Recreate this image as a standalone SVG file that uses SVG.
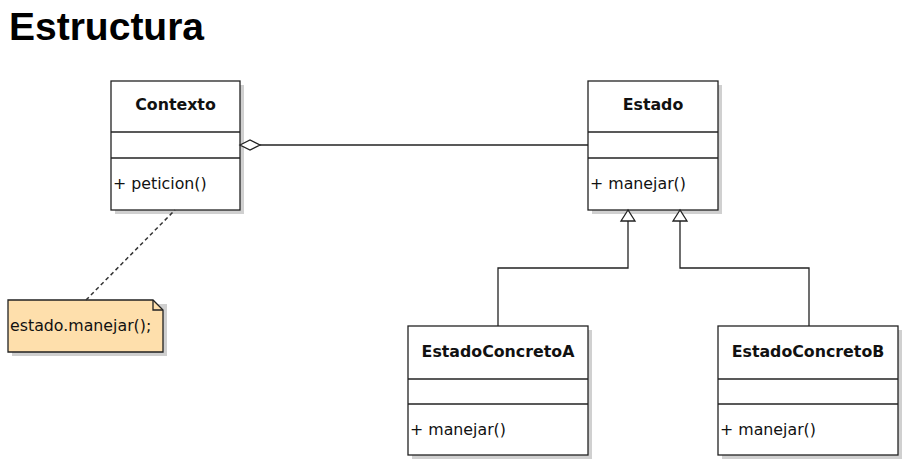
<svg xmlns="http://www.w3.org/2000/svg" width="907" height="468" viewBox="0 0 907 468">
<style>
.box{fill:#fff;stroke:#222;stroke-width:1.3}
.sh{fill:#d0d0d0}
.div{stroke:#222;stroke-width:1.3}
.t{font-family:"DejaVu Sans",sans-serif;font-size:15.8px;font-weight:bold;fill:#111;text-anchor:middle}
.m{font-family:"DejaVu Sans",sans-serif;font-size:15.8px;fill:#111}
.ln{fill:none;stroke:#222;stroke-width:1.3}
</style>
<rect width="907" height="468" fill="#fff"/>
<text x="9" y="40" font-family="Liberation Sans, Arial, sans-serif" font-size="39" font-weight="bold" fill="#000">Estructura</text>

<g id="Contexto">
<rect class="sh" x="115" y="85" width="129" height="129"/>
<rect class="box" x="111" y="81" width="129" height="129"/>
<line class="div" x1="111" y1="132" x2="240" y2="132"/>
<line class="div" x1="111" y1="158" x2="240" y2="158"/>
<text class="t" x="175.5" y="110">Contexto</text>
<text class="m" x="113" y="189">+ peticion()</text>
</g>

<g id="Estado">
<rect class="sh" x="592" y="85" width="130" height="129"/>
<rect class="box" x="588" y="81" width="130" height="129"/>
<line class="div" x1="588" y1="132" x2="718" y2="132"/>
<line class="div" x1="588" y1="158" x2="718" y2="158"/>
<text class="t" x="653" y="110">Estado</text>
<text class="m" x="590" y="189">+ manejar()</text>
</g>

<g id="EstadoConcretoA">
<rect class="sh" x="412" y="330" width="180" height="129"/>
<rect class="box" x="408" y="326" width="180" height="129"/>
<line class="div" x1="408" y1="379" x2="588" y2="379"/>
<line class="div" x1="408" y1="404" x2="588" y2="404"/>
<text class="t" x="498" y="357">EstadoConcretoA</text>
<text class="m" x="410" y="435">+ manejar()</text>
</g>

<g id="EstadoConcretoB">
<rect class="sh" x="722" y="330" width="180" height="129"/>
<rect class="box" x="718" y="326" width="180" height="129"/>
<line class="div" x1="718" y1="379" x2="898" y2="379"/>
<line class="div" x1="718" y1="404" x2="898" y2="404"/>
<text class="t" x="808" y="357">EstadoConcretoB</text>
<text class="m" x="720" y="435">+ manejar()</text>
</g>

<g id="Nota">
<path d="M12,304 H167 V356 H12 Z" fill="#cfcfcf"/>
<path d="M8,300 H153 L163,310 V352 H8 Z" fill="#fedfac" stroke="#222" stroke-width="1.3"/>
<path d="M153,300 V310 H163" fill="none" stroke="#222" stroke-width="1.3"/>
<text class="m" x="10" y="331">estado.manejar();</text>
</g>

<g id="connectors">
<line class="ln" x1="260" y1="145" x2="588" y2="145"/>
<path d="M240,145 L250,140 L260,145 L250,150 Z" fill="#fff" stroke="#222" stroke-width="1.3"/>
<line x1="86" y1="300" x2="175" y2="210" stroke="#333" stroke-width="1.5" stroke-dasharray="4,3"/>
<path class="ln" d="M628,221 V268 H498 V326"/>
<path class="ln" d="M680,221 V268 H809 V326"/>
<path d="M628,210 L621,221 H635 Z" fill="#fff" stroke="#222" stroke-width="1.3"/>
<path d="M680,210 L673,221 H687 Z" fill="#fff" stroke="#222" stroke-width="1.3"/>
</g>
</svg>
